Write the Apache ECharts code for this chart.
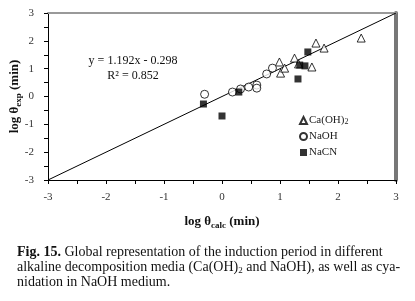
<!DOCTYPE html>
<html>
<head>
<meta charset="utf-8">
<script src="https://cdn.jsdelivr.net/npm/echarts@6/dist/echarts.min.js"></script>
<style>
  html, body { margin: 0; padding: 0; background: #fff; }
  #chart { width: 415px; height: 301px; }
</style>
</head>
<body>
<div id="chart"></div>
<script>
// log θcalc / log θexp pairs
const caOH2Points = [
  [0.99, 1.24], [1.01, 0.84], [1.08, 1.02], [1.25, 1.38], [1.32, 1.17],
  [1.55, 1.06], [1.62, 1.92], [1.76, 1.74], [2.40, 2.10]
];
const naOHPoints = [
  [-0.30, 0.08], [0.18, 0.16], [0.32, 0.27], [0.46, 0.34],
  [0.60, 0.41], [0.60, 0.30], [0.77, 0.81], [0.87, 1.02]
];
const naCNPoints = [
  [-0.32, -0.27], [0.00, -0.70], [0.29, 0.16], [1.31, 0.63],
  [1.34, 1.13], [1.43, 1.10], [1.48, 1.60]
];
// 1:1 line
const diagonal = [[-3, -3], [3, 3]];
const axisTicks = [-3, -2, -1, 0, 1, 2, 3];

const serif = "'Liberation Serif', 'Times New Roman', serif";

const chart = echarts.init(document.getElementById('chart'));

const intLabel = v => (axisTicks.indexOf(v) >= 0 ? String(v) : '');

chart.setOption({
  animation: false,
  backgroundColor: '#fff',
  grid: { left: 48, top: 13, right: 19, bottom: 121, outerBoundsMode: 'none' },
  title: [
    {
      text: 'y = 1.192x - 0.298\nR² = 0.852',
      left: 128,
      top: 48,
      textAlign: 'center',
      textStyle: { fontFamily: serif, fontSize: 12, fontWeight: 'normal', color: '#111', lineHeight: 15, align: 'center' }
    },
    {
      text: '{b|Fig. 15.} Global representation of the induction period in different\n' +
        'alkaline decomposition media (Ca(OH){s|2} and NaOH), as well as cya-\n' +
        'nidation in NaOH medium.',
      left: 12,
      top: 240,
      textStyle: {
        fontFamily: serif, fontSize: 14, fontWeight: 'normal', color: '#111', lineHeight: 15,
        rich: {
          b: { fontFamily: serif, fontSize: 14, fontWeight: 'bold', color: '#111', lineHeight: 15 },
          s: { fontFamily: serif, fontSize: 9, color: '#111', lineHeight: 9, verticalAlign: 'bottom' }
        }
      }
    }
  ],
  legend: {
    orient: 'vertical',
    left: 294,
    top: 110,
    itemWidth: 7,
    itemHeight: 7,
    itemGap: 5,
    data: ['Ca(OH)2', 'NaOH', 'NaCN'],
    formatter: name => (name === 'Ca(OH)2' ? 'Ca(OH){s|2}' : name),
    textStyle: {
      fontFamily: serif, fontSize: 11, color: '#222', padding: [0, 0, 0, -3],
      rich: { s: { fontFamily: serif, fontSize: 8, color: '#222', verticalAlign: 'bottom', lineHeight: 8 } }
    }
  },
  xAxis: [
    {
      type: 'value', min: -3, max: 3, interval: 0.5,
      name: '{b|log θ}{s|calc}{b| (min)}',
      nameLocation: 'middle',
      nameGap: 34,
      nameMoveOverlap: false,
      nameTextStyle: {
        rich: {
          b: { fontFamily: serif, fontSize: 13, fontWeight: 'bold', color: '#111', lineHeight: 16 },
          s: { fontFamily: serif, fontSize: 9, fontWeight: 'bold', color: '#111', lineHeight: 8, verticalAlign: 'bottom' }
        }
      },
      splitLine: { show: false },
      axisLine: { onZero: false, lineStyle: { color: '#000', width: 1 } },
      axisTick: { length: 4, lineStyle: { color: '#000' } },
      axisLabel: { fontFamily: serif, fontSize: 11, color: '#333', margin: 12, formatter: intLabel }
    },
    {
      type: 'value', min: -3, max: 3, position: 'top',
      axisLine: { show: true, onZero: false, lineStyle: { color: '#999', width: 2 } },
      axisTick: { show: false }, axisLabel: { show: false }, splitLine: { show: false }
    }
  ],
  yAxis: [
    {
      type: 'value', min: -3, max: 3, interval: 0.5,
      name: '{b|log θ}{s|exp}{b| (min)}',
      nameLocation: 'middle',
      nameGap: 25,
      nameMoveOverlap: false,
      nameTextStyle: {
        rich: {
          b: { fontFamily: serif, fontSize: 13, fontWeight: 'bold', color: '#111', lineHeight: 16 },
          s: { fontFamily: serif, fontSize: 9, fontWeight: 'bold', color: '#111', lineHeight: 8, verticalAlign: 'bottom' }
        }
      },
      splitLine: { show: false },
      axisLine: { onZero: false, lineStyle: { color: '#000', width: 1 } },
      axisTick: { length: 4, lineStyle: { color: '#000' } },
      axisLabel: { fontFamily: serif, fontSize: 11, color: '#333', margin: 14, formatter: intLabel }
    },
    {
      type: 'value', min: -3, max: 3, position: 'right',
      axisLine: { show: true, onZero: false, lineStyle: { color: '#777', width: 4 } },
      axisTick: { show: false }, axisLabel: { show: false }, splitLine: { show: false }
    }
  ],
  series: [
    {
      name: 'fit',
      type: 'line',
      data: diagonal,
      symbol: 'none',
      silent: true,
      lineStyle: { color: '#000', width: 1 },
      z: 1
    },
    {
      name: 'Ca(OH)2',
      type: 'scatter',
      data: caOH2Points,
      symbol: 'triangle',
      symbolSize: 8,
      itemStyle: { color: '#fff', borderColor: '#000', borderWidth: 1 }
    },
    {
      name: 'NaOH',
      type: 'scatter',
      data: naOHPoints,
      symbol: 'circle',
      symbolSize: 8,
      itemStyle: { color: '#fff', borderColor: '#000', borderWidth: 1 }
    },
    {
      name: 'NaCN',
      type: 'scatter',
      data: naCNPoints,
      symbol: 'rect',
      symbolSize: 7,
      itemStyle: { color: '#000' }
    }
  ]
});
</script>
</body>
</html>
